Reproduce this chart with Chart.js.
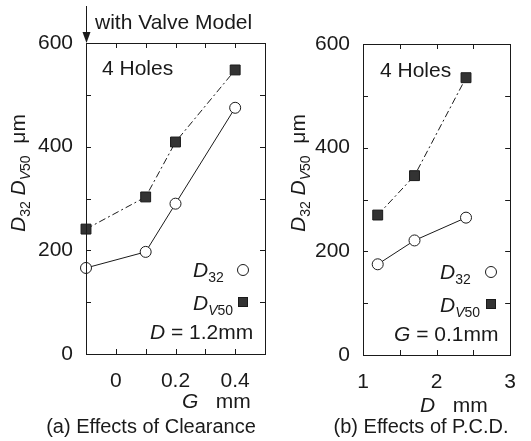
<!DOCTYPE html>
<html>
<head>
<meta charset="utf-8">
<script src="https://cdn.jsdelivr.net/npm/chart.js@4.4.0/dist/chart.umd.min.js"></script>
<style>
body { margin: 0; background: #fff; }
#wrap { position: relative; width: 531px; height: 441px; }
.box { position: absolute; top: 0; height: 441px; }
</style>
</head>
<body>
<div id="wrap">
  <div class="box" style="left:0;width:280px"><canvas id="cA" width="280" height="441"></canvas></div>
  <div class="box" style="left:280px;width:251px"><canvas id="cB" width="251" height="441"></canvas></div>
</div>
<script>
// (a) clearance G (mm) -- first point is the valve model
const gapG = [-0.1, 0.1, 0.2, 0.4];
const d32G = [166, 197, 290, 475];
const dv50G = [241, 303, 409, 548];

// (b) P.C.D. D (mm)
const pcdD = [1.2, 1.7, 2.4];
const d32D = [175, 221, 265];
const dv50D = [270, 346, 535];

const FONT = '"Liberation Sans", Arial, Helvetica, sans-serif';
const INK = '#1a1a1a';
const BIG = 21, SUB = 14;

function pts(xs, ys) {
    return xs.map((x, i) => ({ x: x, y: ys[i] }));
}

// draws text pieces (normal / italic / subscript) in a row
function drawRich(ctx, x, y, parts) {
    let cx = x;
    parts.forEach(p => {
        const size = p.sub ? SUB : BIG;
        ctx.font = (p.it ? 'italic ' : '') + size + 'px ' + FONT;
        ctx.fillText(p.t, cx, y + (p.sub ? 5 : 0));
        cx += ctx.measureText(p.t).width;
    });
    return cx - x;
}

const yTitle = [
    { t: 'D', it: true }, { t: '32', sub: true }, { t: ' ' },
    { t: 'D', it: true }, { t: 'V', sub: true, it: true }, { t: '50', sub: true },
    { t: '  \u03bcm' }
];

function makeDeco(cfg) {
    return {
        id: 'deco',
        afterDraw(chart) {
            const ctx = chart.ctx;
            const a = chart.chartArea;
            const sx = chart.scales.x, sy = chart.scales.y;
            ctx.save();
            ctx.strokeStyle = INK;
            ctx.lineWidth = 1;
            ctx.strokeRect(Math.round(a.left) + 0.5, Math.round(a.top) + 0.5,
                Math.round(a.right - a.left), Math.round(a.bottom - a.top));

            // inward ticks on all four sides
            ctx.beginPath();
            sx.ticks.forEach(t => {
                if (t.value <= sx.min + 1e-9 || t.value >= sx.max - 1e-9) return;
                const px = Math.round(sx.getPixelForValue(t.value)) + 0.5;
                ctx.moveTo(px, a.bottom); ctx.lineTo(px, a.bottom - 5);
                ctx.moveTo(px, a.top); ctx.lineTo(px, a.top + 5);
            });
            sy.ticks.forEach(t => {
                if (t.value <= sy.min || t.value >= sy.max) return;
                const py = Math.round(sy.getPixelForValue(t.value)) + 0.5;
                ctx.moveTo(a.left, py); ctx.lineTo(a.left + 5, py);
                ctx.moveTo(a.right, py); ctx.lineTo(a.right - 5, py);
            });
            ctx.stroke();

            ctx.fillStyle = INK;
            ctx.textBaseline = 'alphabetic';
            ctx.textAlign = 'left';

            // y title, rotated
            ctx.save();
            ctx.translate(25, cfg.yTitleStart);
            ctx.rotate(-Math.PI / 2);
            drawRich(ctx, 0, 0, yTitle);
            ctx.restore();

            // "4 Holes"
            ctx.font = BIG + 'px ' + FONT;
            ctx.fillText('4 Holes', cfg.holes[0], cfg.holes[1]);

            // legend block
            const lg = cfg.legend;
            drawRich(ctx, lg.x, lg.y1, [{ t: 'D', it: true }, { t: '32', sub: true }]);
            drawRich(ctx, lg.x, lg.y2, [{ t: 'D', it: true }, { t: 'V', sub: true, it: true }, { t: '50', sub: true }]);
            ctx.beginPath();
            ctx.arc(lg.mx, lg.y1 - 7, 5.5, 0, Math.PI * 2);
            ctx.fillStyle = '#fff';
            ctx.fill();
            ctx.stroke();
            ctx.fillStyle = '#333';
            ctx.fillRect(lg.mx - 5, lg.y2 - 13, 10, 10);
            ctx.strokeRect(lg.mx - 5 + 0.5, lg.y2 - 13 + 0.5, 9, 9);
            ctx.fillStyle = INK;
            drawRich(ctx, lg.nx, lg.y3, [{ t: cfg.note[0], it: true }, { t: cfg.note[1] }]);

            // x title and caption
            drawRich(ctx, cfg.xTitle[0], cfg.xTitle[1], [{ t: cfg.xTitle[2], it: true }, { t: '   mm' }]);
            ctx.font = '20px ' + FONT;
            ctx.textAlign = 'center';
            ctx.fillText(cfg.caption, cfg.capX, 433);

            if (cfg.valve) {
                const vx = Math.round(a.left) + 0.5;
                ctx.beginPath();
                ctx.moveTo(vx, 6); ctx.lineTo(vx, a.top - 8);
                ctx.stroke();
                ctx.beginPath();
                ctx.moveTo(vx - 4, a.top - 11);
                ctx.lineTo(vx + 4, a.top - 11);
                ctx.lineTo(vx, a.top);
                ctx.closePath();
                ctx.fill();
                ctx.textAlign = 'left';
                ctx.font = BIG + 'px ' + FONT;
                ctx.fillText('with Valve Model', 95, 29);
            }
            ctx.restore();
        }
    };
}

function makeChart(id, cfg) {
    return new Chart(document.getElementById(id), {
        type: 'scatter',
        data: {
            datasets: [
                {
                    data: pts(cfg.xs, cfg.d32),
                    showLine: true,
                    borderColor: INK,
                    borderWidth: 1,
                    pointStyle: 'circle',
                    pointRadius: 5.5,
                    pointBackgroundColor: '#fff',
                    pointBorderColor: INK,
                    pointBorderWidth: 1,
                    clip: false
                },
                {
                    data: pts(cfg.xs, cfg.dv50),
                    showLine: true,
                    borderColor: INK,
                    borderWidth: 1,
                    borderDash: [7, 3, 2, 3],
                    pointStyle: 'rect',
                    pointRadius: 7,
                    pointBackgroundColor: '#333',
                    pointBorderColor: INK,
                    pointBorderWidth: 1,
                    clip: false
                }
            ]
        },
        options: {
            responsive: false,
            animation: false,
            layout: { padding: { top: cfg.top, right: cfg.right, left: 0, bottom: 0 } },
            plugins: { legend: { display: false }, tooltip: { enabled: false } },
            scales: {
                x: {
                    type: 'linear',
                    min: cfg.xmin, max: cfg.xmax,
                    afterFit: s => { s.height = 441 - cfg.bottom; },
                    grid: { display: false, drawTicks: false },
                    border: { display: false },
                    ticks: {
                        stepSize: cfg.xstep,
                        autoSkip: false,
                        maxRotation: 0,
                        padding: 15,
                        color: INK,
                        font: { family: FONT, size: BIG },
                        callback: cfg.xlabel
                    }
                },
                y: {
                    min: 0, max: 600,
                    afterFit: s => { s.width = cfg.left; },
                    grid: { display: false, drawTicks: false },
                    border: { display: false },
                    ticks: {
                        stepSize: 100,
                        autoSkip: false,
                        padding: 13,
                        color: INK,
                        font: { family: FONT, size: BIG },
                        callback: v => (v % 200 === 0 ? v : '')
                    }
                }
            }
        },
        plugins: [makeDeco(cfg)]
    });
}

makeChart('cA', {
    xs: gapG, d32: d32G, dv50: dv50G,
    xmin: -0.1, xmax: 0.5, xstep: 0.1,
    xlabel: v => { const r = Math.round(v * 10); return (r >= 0 && r <= 4 && r % 2 === 0) ? String(r / 10) : ''; },
    left: 86, right: 13, top: 43, bottom: 354,
    yTitleStart: 232,
    holes: [102, 75],
    legend: { x: 193, y1: 277, y2: 310, y3: 339, mx: 243, nx: 150 },
    note: ['D', ' = 1.2mm'],
    xTitle: [182, 408, 'G'],
    caption: '(a) Effects of Clearance', capX: 151,
    valve: true
});

makeChart('cB', {
    xs: pcdD, d32: d32D, dv50: dv50D,
    xmin: 1, xmax: 3, xstep: 0.5,
    xlabel: v => (Number.isInteger(v) ? String(v) : ''),
    left: 83, right: 14, top: 44, bottom: 355,
    yTitleStart: 232,
    holes: [100, 77],
    legend: { x: 160, y1: 279, y2: 312, y3: 341, mx: 211, nx: 114 },
    note: ['G', ' = 0.1mm'],
    xTitle: [140, 412, 'D'],
    caption: '(b) Effects of P.C.D.', capX: 141,
    valve: false
});
</script>
</body>
</html>
